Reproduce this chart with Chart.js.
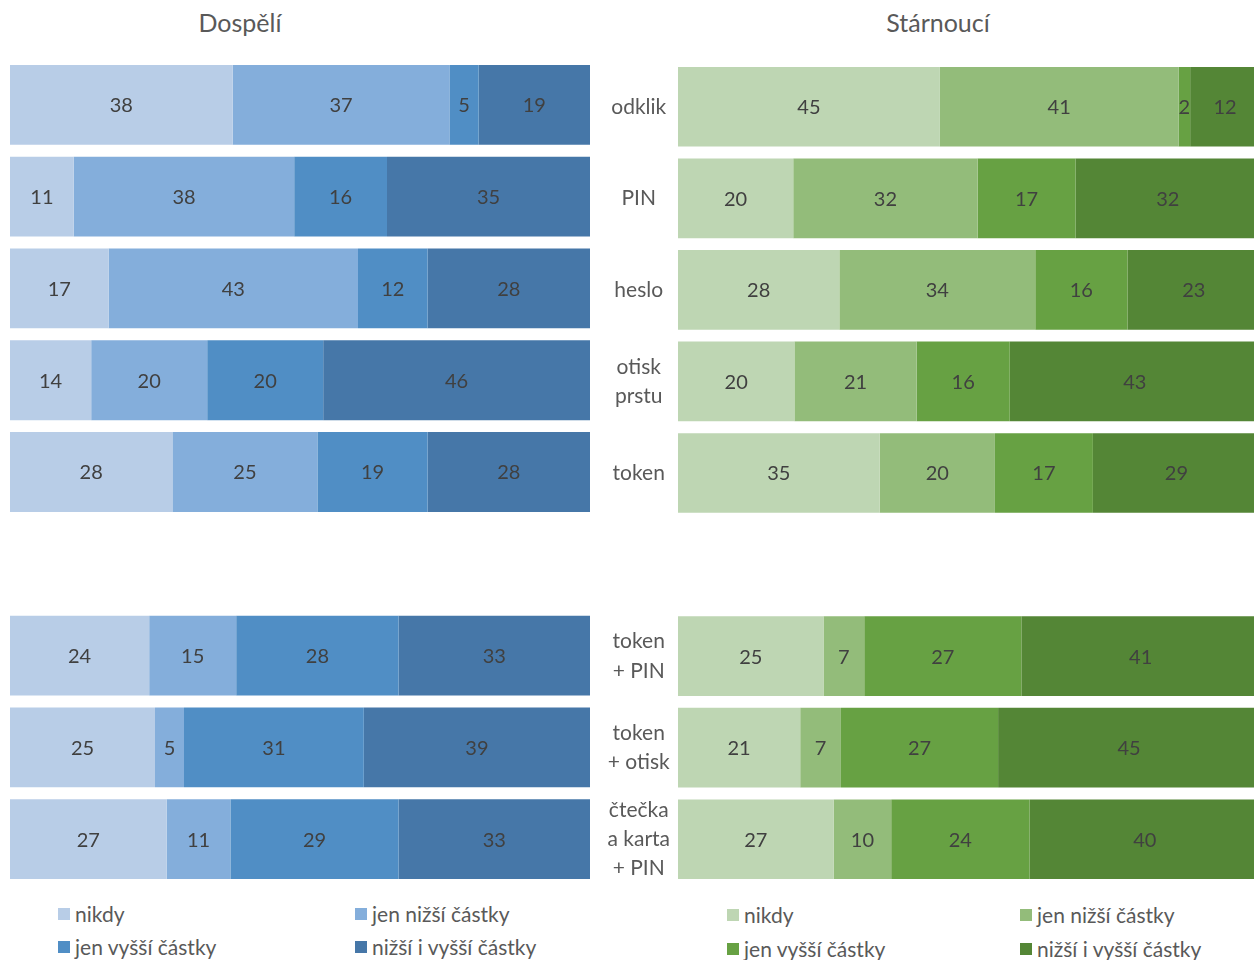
<!DOCTYPE html>
<html>
<head>
<meta charset="utf-8">
<script src="https://cdn.jsdelivr.net/npm/chart.js@4"></script>
<style>
  html, body { margin: 0; padding: 0; background: #fff; }
  body { width: 1254px; height: 960px; position: relative; overflow: hidden; font-family: Lato, 'Noto Sans', sans-serif; color: #595959; }
  .title { position: absolute; top: 7px; font-size: 25px; text-align: center; width: 300px; }
  .wrap { position: absolute; }
  .legend { position: absolute; font-size: 21px; }
  .legend .item { position: absolute; white-space: nowrap; display: flex; align-items: center; }
  .legend .sw { width: 12px; height: 12px; margin-right: 5px; display: inline-block; }
</style>
</head>
<body>
<div class="title" style="left:90px">Dospělí</div>
<div class="title" style="left:788px">Stárnoucí</div>
<div class="wrap" style="left:10px; top:59px; width:580px; height:826px"><canvas id="adults"></canvas></div>
<div class="wrap" style="left:590px; top:61px; width:670px; height:824px"><canvas id="seniors"></canvas></div>
<div class="legend" id="legendAdults"></div>
<div class="legend" id="legendSeniors"></div>
<script>
// kategorie (prázdný řádek = mezera mezi skupinami)
const categories = ['odklik', 'PIN', 'heslo', ['otisk', 'prstu'], 'token', '',
  ['token', '+ PIN'], ['token', '+ otisk'], ['čtečka', 'a karta', '+ PIN']];
const seriesNames = ['nikdy', 'jen nižší částky', 'jen vyšší částky', 'nižší i vyšší částky'];

// Dospělí
const adultsNikdy  = [38, 11, 17, 14, 28, null, 24, 25, 27];
const adultsNizsi  = [37, 38, 43, 20, 25, null, 15, 5, 11];
const adultsVyssi  = [5, 16, 12, 20, 19, null, 28, 31, 29];
const adultsObe    = [19, 35, 28, 46, 28, null, 33, 39, 33];

// Stárnoucí
const seniorsNikdy = [45, 20, 28, 20, 35, null, 25, 21, 27];
const seniorsNizsi = [41, 32, 34, 21, 20, null, 7, 7, 10];
const seniorsVyssi = [2, 17, 16, 16, 17, null, 27, 27, 24];
const seniorsObe   = [12, 32, 23, 43, 29, null, 41, 45, 40];

const blues  = ['#b8cde7', '#84aedb', '#508ec5', '#4677a8'];
const greens = ['#bed6b3', '#93bc7a', '#67a143', '#548636'];

const FONT = "Lato, 'Noto Sans', sans-serif";

// 100% skládané pruhy: podíl z řádkového součtu
function toPercent(groups) {
  return groups.map(values => values.map((v, i) => {
    if (v == null) return null;
    const total = groups.reduce((s, g) => s + (g[i] || 0), 0);
    return v / total * 100;
  }));
}

function buildDatasets(groups, colors) {
  const pct = toPercent(groups);
  return groups.map((values, k) => ({
    label: seriesNames[k],
    data: pct[k],
    raw: values,
    backgroundColor: colors[k],
    borderWidth: 0,
    categoryPercentage: 0.87,
    barPercentage: 1,
  }));
}

const valueLabels = {
  id: 'valueLabels',
  afterDatasetsDraw(chart) {
    const ctx = chart.ctx;
    ctx.save();
    ctx.font = `20px ${FONT}`;
    ctx.fillStyle = '#404040';
    ctx.textAlign = 'center';
    ctx.textBaseline = 'middle';
    chart.data.datasets.forEach((ds, di) => {
      chart.getDatasetMeta(di).data.forEach((el, i) => {
        const v = ds.raw[i];
        if (v == null) return;
        ctx.fillText(String(v), (el.x + el.base) / 2, el.y + 1);
      });
    });
    ctx.restore();
  },
};

function chartOptions(showAxis) {
  return {
    indexAxis: 'y',
    responsive: true,
    maintainAspectRatio: false,
    animation: false,
    layout: { padding: 0 },
    plugins: { legend: { display: false }, tooltip: { enabled: false } },
    scales: {
      x: { stacked: true, min: 0, max: 100, display: false },
      y: {
        stacked: true,
        display: showAxis,
        grid: { display: false },
        border: { display: false },
        afterFit: scale => {
          if (!showAxis) return;
          scale.width = 88;
          scale.paddingTop = 0;
          scale.paddingBottom = 0;
        },
        ticks: {
          color: '#595959',
          crossAlign: 'center',
          padding: 0,
          font: { family: FONT, size: 21, lineHeight: 1.4 },
        },
      },
    },
  };
}

function makeChart(id, groups, colors, showAxis) {
  return new Chart(document.getElementById(id), {
    type: 'bar',
    data: { labels: categories, datasets: buildDatasets(groups, colors) },
    options: chartOptions(showAxis),
    plugins: [valueLabels],
  });
}

const adultsChart = makeChart('adults', [adultsNikdy, adultsNizsi, adultsVyssi, adultsObe], blues, false);
const seniorsChart = makeChart('seniors', [seniorsNikdy, seniorsNizsi, seniorsVyssi, seniorsObe], greens, true);

// legenda 2x2
function buildLegend(el, chart, cols, rows) {
  chart.data.datasets.forEach((ds, i) => {
    const item = document.createElement('div');
    item.className = 'item';
    item.style.left = cols[i % 2] + 'px';
    item.style.top = rows[Math.floor(i / 2)] + 'px';
    item.innerHTML = `<span class="sw" style="background:${ds.backgroundColor}"></span>${ds.label}`;
    el.appendChild(item);
  });
}
buildLegend(document.getElementById('legendAdults'), adultsChart, [58, 355], [901, 934]);
buildLegend(document.getElementById('legendSeniors'), seniorsChart, [727, 1020], [902, 936]);
</script>
</body>
</html>
